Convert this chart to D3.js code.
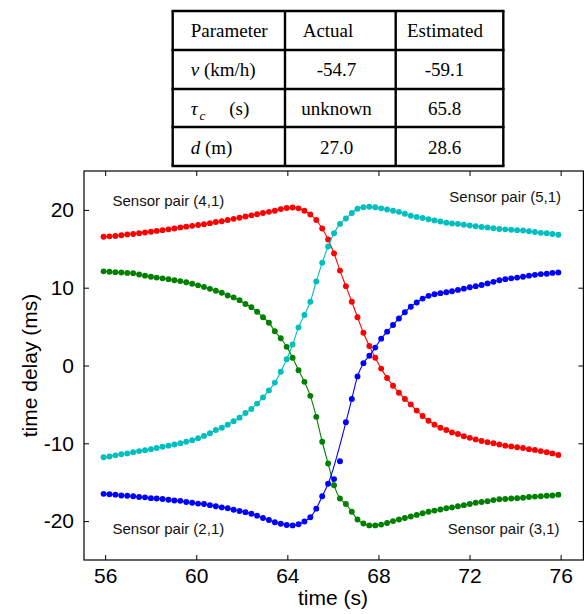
<!DOCTYPE html>
<meta charset="utf-8">
<style>
body { margin: 0; background: #fff; }
text { font-family: Arial, "Liberation Sans", sans-serif; fill: #000; }
.tbl text { font-family: "Times New Roman", "Liberation Serif", serif; font-size: 19px; }
.axis path { display: none; }
.axis line { stroke: #000; }
</style>
<svg width="586" height="614"></svg>
<script src="https://d3js.org/d3.v7.min.js"></script>
<script>

// sample times (s)
const times = [55.93, 56.19, 56.45, 56.71, 56.97, 57.23, 57.49, 57.75, 58.01, 58.26,
  58.52, 58.78, 59.04, 59.30, 59.56, 59.82, 60.08, 60.34, 60.60, 60.86,
  61.12, 61.38, 61.64, 61.90, 62.16, 62.42, 62.67, 62.93, 63.19, 63.45,
  63.71, 63.97, 64.23, 64.49, 64.75, 65.01, 65.27, 65.53, 65.79, 66.05,
  66.31, 66.57, 66.83, 67.08, 67.34, 67.60, 67.86, 68.12, 68.38, 68.64,
  68.90, 69.16, 69.42, 69.68, 69.94, 70.20, 70.46, 70.72, 70.98, 71.23,
  71.49, 71.75, 72.01, 72.27, 72.53, 72.79, 73.05, 73.31, 73.57, 73.83,
  74.09, 74.35, 74.61, 74.87, 75.13, 75.39, 75.64, 75.90];

// time delays (ms), red curve
const pair41 = [16.55, 16.6, 16.65, 16.75, 16.85, 16.9, 17.0, 17.1, 17.2, 17.3,
  17.4, 17.5, 17.6, 17.75, 17.85, 17.95, 18.05, 18.15, 18.3, 18.45,
  18.55, 18.7, 18.85, 19.0, 19.15, 19.3, 19.45, 19.6, 19.75, 19.9,
  20.1, 20.25, 20.3, 20.2, 19.9, 19.4, 18.7, 17.6, 16.2, 14.4,
  12.2, 10.2, 8.2, 6.2, 4.2, 2.5, 1.0, -0.4, -1.6, -2.6,
  -3.5, -4.3, -5.0, -5.8, -6.5, -7.1, -7.6, -8.0, -8.3, -8.6,
  -8.8, -9.1, -9.3, -9.5, -9.7, -9.85, -10.0, -10.15, -10.3, -10.4,
  -10.5, -10.6, -10.75, -10.85, -11.0, -11.15, -11.3, -11.5];

// cyan curve
const pair51 = [-11.8, -11.7, -11.55, -11.4, -11.3, -11.15, -11.0, -10.9, -10.75, -10.6,
  -10.45, -10.3, -10.15, -10.0, -9.8, -9.6, -9.35, -9.05, -8.7, -8.3,
  -8.0, -7.6, -7.15, -6.7, -6.1, -5.6, -4.9, -4.1, -3.2, -2.2,
  -0.8, 0.8, 2.7, 4.9, 6.5, 8.2, 10.8, 13.2, 15.3, 17.0,
  18.2, 18.9, 19.6, 20.15, 20.35, 20.4, 20.35, 20.2, 20.05, 19.9,
  19.75, 19.5, 19.25, 19.1, 18.95, 18.8, 18.65, 18.5, 18.35, 18.25,
  18.2, 18.1, 18.0, 17.9, 17.8, 17.75, 17.65, 17.55, 17.5, 17.45,
  17.4, 17.35, 17.25, 17.15, 17.05, 17.0, 16.9, 16.8];

// green curve
const pair31 = [12.1, 12.05, 12.0, 11.95, 11.9, 11.85, 11.7, 11.55, 11.4, 11.3,
  11.2, 11.1, 10.95, 10.85, 10.7, 10.5, 10.3, 10.1, 9.85, 9.6,
  9.35, 9.0, 8.75, 8.4, 7.9, 7.5, 6.9, 6.2, 5.5, 4.4,
  3.5, 2.4, 1.0, -0.6, -2.1, -3.9, -6.6, -9.8, -12.6, -15.4,
  -17.1, -17.8, -18.8, -19.8, -20.3, -20.55, -20.55, -20.45, -20.25, -20.0,
  -19.8, -19.6, -19.4, -19.2, -19.0, -18.8, -18.65, -18.5, -18.35, -18.25,
  -18.1, -17.95, -17.8, -17.65, -17.55, -17.45, -17.3, -17.2, -17.15, -17.1,
  -17.05, -17.0, -16.9, -16.85, -16.8, -16.75, -16.7, -16.6];

// blue curve
const pair21 = [-16.5, -16.55, -16.6, -16.7, -16.75, -16.8, -16.9, -16.95, -17.05, -17.1,
  -17.15, -17.25, -17.35, -17.4, -17.55, -17.65, -17.75, -17.8, -17.95, -18.1,
  -18.25, -18.35, -18.55, -18.7, -18.85, -19.05, -19.3, -19.6, -19.85, -20.15,
  -20.35, -20.5, -20.55, -20.4, -20.05, -19.5, -18.4, -16.8, -15.2, -14.6,
  -12.3, -7.3, -4.3, -1.4, 0.3, 1.25, 2.3, 3.45, 4.35, 5.2,
  6.05, 6.85, 7.55, 8.1, 8.6, 8.95, 9.15, 9.3, 9.42, 9.55,
  9.72, 9.88, 10.05, 10.2, 10.35, 10.55, 10.75, 10.95, 11.1, 11.2,
  11.3, 11.4, 11.55, 11.65, 11.75, 11.8, 11.9, 11.95];
// blue samples that sit off the fitted curve
const pair21Outliers = [66.05, 66.31];

const xTicks = [56, 60, 64, 68, 72, 76];
const yTicks = [-20, -10, 0, 10, 20];

// table
const tableHead = ["Parameter", "Actual", "Estimated"];
const paramSymbols = ["v", "\u03C4", "d"];
const paramSubs = ["", "c", ""];
const paramUnits = ["(km/h)", "(s)", "(m)"];
const actualVals = ["-54.7", "unknown", "27.0"];
const estimatedVals = ["-59.1", "65.8", "28.6"];

let svg = d3.select("svg");

let x = d3.scaleLinear().domain([55.07, 77]).range([84, 583.4]);
let y = d3.scaleLinear().domain([-25, 25]).range([560, 171]);

let series = [
  {vals: pair41, color: "#ff0000", skip: []},
  {vals: pair51, color: "#00bfbf", skip: []},
  {vals: pair31, color: "#008000", skip: []},
  {vals: pair21, color: "#0000ff", skip: pair21Outliers}
];

let plainNum = d => String(d);

// axes: inward ticks on all four sides
svg.append("g").attr("class", "axis")
  .attr("transform", "translate(84,0)")
  .call(d3.axisLeft(y).tickValues(yTicks).tickSize(-5).tickPadding(10).tickFormat(plainNum))
  .selectAll("text").style("font-size", "21px").style("font-family", "Arial, 'Liberation Sans', sans-serif");

svg.append("g").attr("class", "axis")
  .attr("transform", "translate(0,560)")
  .call(d3.axisBottom(x).tickValues(xTicks).tickSize(-5).tickPadding(8.5).tickFormat(plainNum))
  .selectAll("text").style("font-size", "21px").style("font-family", "Arial, 'Liberation Sans', sans-serif");

svg.append("g").attr("class", "axis")
  .attr("transform", "translate(583.4,0)")
  .call(d3.axisRight(y).tickValues(yTicks).tickSize(-5).tickFormat(""));

svg.append("g").attr("class", "axis")
  .attr("transform", "translate(0,171)")
  .call(d3.axisTop(x).tickValues(xTicks).tickSize(-5).tickFormat(""));

svg.append("rect")
  .attr("x", 84).attr("y", 171)
  .attr("width", 583.4 - 84).attr("height", 560 - 171)
  .attr("fill", "none").attr("stroke", "#000").attr("stroke-width", 1.2);

// curves
let line = d3.line()
  .x(d => x(d.t))
  .y(d => y(d.v))
  .curve(d3.curveMonotoneX);

series.forEach(s => {
  let pts = times.map((t, i) => ({t: t, v: s.vals[i]}));
  let fitPts = pts.filter(d => !s.skip.includes(d.t));
  let g = svg.append("g");
  g.append("path")
    .attr("d", line(fitPts))
    .attr("fill", "none")
    .attr("stroke", s.color)
    .attr("stroke-width", 1.1);
  g.selectAll("circle")
    .data(pts)
    .enter().append("circle")
    .attr("cx", d => x(d.t))
    .attr("cy", d => y(d.v))
    .attr("r", 2.95)
    .attr("fill", s.color);
});

// pair labels
let labels = [
  {text: "Sensor pair (4,1)", x: 112.5, y: 205.5, anchor: "start"},
  {text: "Sensor pair (5,1)", x: 561, y: 202, anchor: "end"},
  {text: "Sensor pair (2,1)", x: 112.5, y: 534, anchor: "start"},
  {text: "Sensor pair (3,1)", x: 559.5, y: 534, anchor: "end"}
];
svg.selectAll(".pairlabel")
  .data(labels)
  .enter().append("text")
  .attr("class", "pairlabel")
  .attr("x", d => d.x)
  .attr("y", d => d.y)
  .attr("text-anchor", d => d.anchor)
  .style("font-size", "15px")
  .style("fill", "#111")
  .text(d => d.text);

// axis titles
svg.append("text")
  .attr("x", 333).attr("y", 605)
  .attr("text-anchor", "middle")
  .style("font-size", "21px")
  .text("time (s)");

svg.append("text")
  .attr("transform", "translate(37,365.5) rotate(-90)")
  .attr("text-anchor", "middle")
  .style("font-size", "21px")
  .text("time delay (ms)");

// parameter table
let tbl = svg.append("g").attr("class", "tbl");
let colX = [172.7, 285, 395.7, 503.3];
let rowY = [11, 50, 89, 127, 166];

tbl.append("rect")
  .attr("x", colX[0]).attr("y", rowY[0])
  .attr("width", colX[3] - colX[0]).attr("height", rowY[4] - rowY[0])
  .attr("fill", "#fff");

tbl.selectAll(".hl")
  .data(rowY)
  .enter().append("line")
  .attr("x1", colX[0] - 1.2).attr("x2", colX[3] + 1.2)
  .attr("y1", d => d).attr("y2", d => d)
  .attr("stroke", "#000").attr("stroke-width", 2.4);

tbl.selectAll(".vl")
  .data(colX)
  .enter().append("line")
  .attr("y1", rowY[0]).attr("y2", rowY[4])
  .attr("x1", d => d).attr("x2", d => d)
  .attr("stroke", "#000").attr("stroke-width", 2.4);

let headX = [190.7, 302.7, 407];
tableHead.forEach((h, i) => {
  tbl.append("text").attr("x", headX[i]).attr("y", 37.3).text(h);
});

let baseY = [76.3, 114.8, 153.5];
paramSymbols.forEach((sym, i) => {
  let t = tbl.append("text").attr("x", 190.7).attr("y", baseY[i]);
  t.append("tspan").style("font-style", "italic").text(sym);
  if (paramSubs[i]) {
    t.append("tspan").style("font-style", "italic").style("font-size", "13px")
      .attr("dx", 2).attr("dy", 5).text(paramSubs[i]);
    t.append("tspan").attr("x", 229.3).attr("dy", -5).text(paramUnits[i]);
  } else {
    t.append("tspan").text(" " + paramUnits[i]);
  }
  tbl.append("text").attr("x", 336.5).attr("y", baseY[i])
    .attr("text-anchor", "middle").text(actualVals[i]);
  tbl.append("text").attr("x", 444.5).attr("y", baseY[i])
    .attr("text-anchor", "middle").text(estimatedVals[i]);
});

</script>
